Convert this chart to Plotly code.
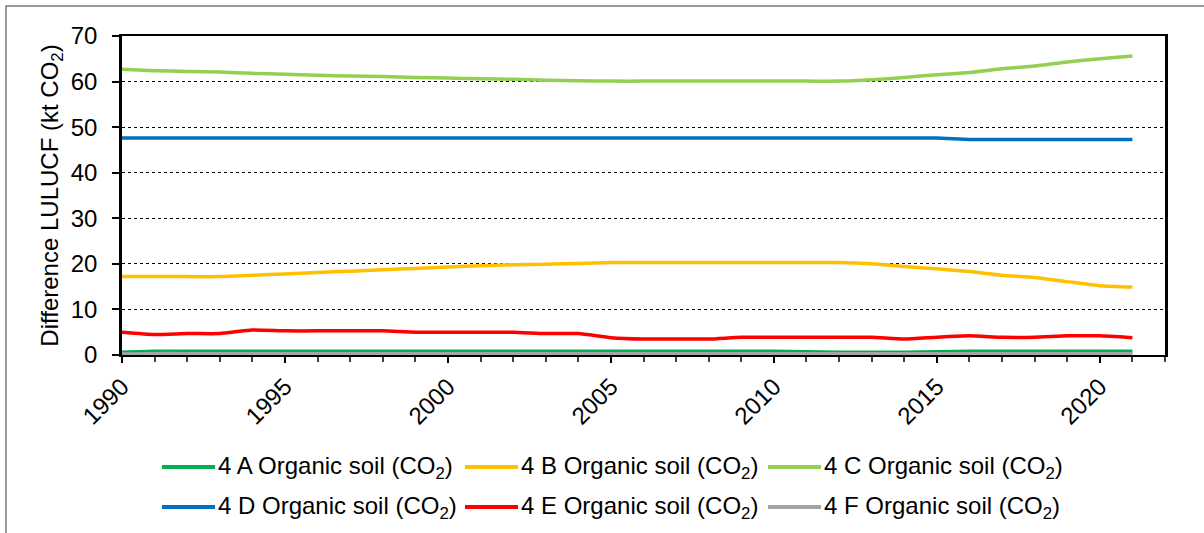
import plotly.graph_objects as go

# Annual values 1990-2021, kt CO2
years = list(range(1990, 2022))

series_names = [
    "4 A Organic soil (CO<sub>2</sub>)",
    "4 B Organic soil (CO<sub>2</sub>)",
    "4 C Organic soil (CO<sub>2</sub>)",
    "4 D Organic soil (CO<sub>2</sub>)",
    "4 E Organic soil (CO<sub>2</sub>)",
    "4 F Organic soil (CO<sub>2</sub>)",
]
series_colors = ["#00B050", "#FFC000", "#92D050", "#0070C0", "#FF0000", "#A5A5A5"]

cropland_a = [0.6, 0.8, 0.8, 0.8, 0.8, 0.8, 0.8, 0.8, 0.8, 0.8, 0.8, 0.8, 0.8, 0.8, 0.8, 0.8,
              0.8, 0.8, 0.8, 0.8, 0.8, 0.7, 0.6, 0.6, 0.6, 0.7, 0.8, 0.8, 0.8, 0.8, 0.8, 0.8]
grass_b = [17.2, 17.2, 17.2, 17.2, 17.5, 17.8, 18.1, 18.4, 18.7, 19.0, 19.3, 19.6, 19.8, 19.9, 20.1, 20.3,
           20.3, 20.3, 20.3, 20.3, 20.3, 20.3, 20.3, 20.0, 19.4, 18.9, 18.3, 17.5, 17.0, 16.1, 15.2, 14.9]
wet_c = [62.7, 62.4, 62.2, 62.1, 61.8, 61.6, 61.4, 61.2, 61.1, 60.9, 60.8, 60.6, 60.5, 60.3, 60.2, 60.1,
         60.1, 60.1, 60.1, 60.1, 60.1, 60.1, 60.1, 60.4, 60.9, 61.5, 62.0, 62.8, 63.4, 64.3, 65.0, 65.6]
settle_d = [47.6, 47.6, 47.6, 47.6, 47.6, 47.6, 47.6, 47.6, 47.6, 47.6, 47.6, 47.6, 47.6, 47.6, 47.6, 47.6,
            47.6, 47.6, 47.6, 47.6, 47.6, 47.6, 47.6, 47.6, 47.6, 47.6, 47.3, 47.3, 47.3, 47.3, 47.3, 47.3]
other_e = [5.0, 4.5, 4.7, 4.7, 5.5, 5.3, 5.3, 5.3, 5.3, 5.0, 5.0, 5.0, 5.0, 4.7, 4.7, 3.8,
           3.5, 3.5, 3.5, 3.9, 3.9, 3.9, 3.9, 3.9, 3.5, 3.9, 4.2, 3.9, 3.9, 4.2, 4.2, 3.8]
forest_f = [0.2, 0.3, 0.3, 0.3, 0.3, 0.3, 0.3, 0.3, 0.3, 0.3, 0.3, 0.3, 0.3, 0.3, 0.3, 0.3,
            0.3, 0.3, 0.3, 0.3, 0.3, 0.3, 0.3, 0.3, 0.3, 0.3, 0.3, 0.3, 0.3, 0.3, 0.3, 0.3]

series_values = [cropland_a, grass_b, wet_c, settle_d, other_e, forest_f]

year_ticks = [1990, 1995, 2000, 2005, 2010, 2015, 2020]
y_ticks = [0, 10, 20, 30, 40, 50, 60, 70]

FONT = "Liberation Sans, Arial, sans-serif"
FS = 24
W, H = 1204, 533
ML, MR, MT, MB = 122, 39, 36, 178
PW, PH = W - ML - MR, H - MT - MB


def px_x(px):
    return (px - ML) / PW


def px_y(py):
    return (H - MB - py) / PH


fig = go.Figure()
for name, vals, col in zip(series_names, series_values, series_colors):
    fig.add_trace(go.Scatter(
        x=years, y=vals, name=name, mode="lines",
        line=dict(color=col, width=3.5, shape="spline", smoothing=0.5),
        showlegend=False,
    ))

# Custom legend: two rows of three entries below the plot
shapes = []
annotations = []
col_x = [162, 465, 768]
row_y = [467, 507]
for i, (name, col) in enumerate(zip(series_names, series_colors)):
    r, c = divmod(i, 3)
    x0 = col_x[c]
    yy = row_y[r]
    shapes.append(dict(type="line", xref="paper", yref="paper",
                       x0=px_x(x0), x1=px_x(x0 + 53), y0=px_y(yy), y1=px_y(yy),
                       line=dict(color=col, width=4)))
    annotations.append(dict(xref="paper", yref="paper", x=px_x(x0 + 54), y=px_y(yy),
                            xanchor="left", yanchor="middle", text=name, showarrow=False,
                            font=dict(family=FONT, size=FS, color="#000000")))

# Outer chart frame
shapes.append(dict(type="rect", xref="paper", yref="paper", layer="below",
                   x0=px_x(6), x1=px_x(1215), y0=px_y(545), y1=px_y(6),
                   line=dict(color="#7A7A7A", width=1.5), fillcolor="rgba(0,0,0,0)"))

fig.update_layout(
    width=W, height=H,
    margin=dict(l=ML, r=MR, t=MT, b=MB),
    paper_bgcolor="white", plot_bgcolor="white",
    font=dict(family=FONT, size=FS, color="#000000"),
    shapes=shapes, annotations=annotations,
    showlegend=False,
)

fig.update_xaxes(
    range=[1990, 2022], tickmode="array", tickvals=year_ticks,
    ticktext=[str(y) for y in year_ticks], tickangle=-45,
    ticks="outside", ticklen=6, tickwidth=1.5, tickcolor="#000000",
    minor=dict(dtick=1, tick0=1990, ticks="outside", ticklen=5, tickwidth=1.5,
               tickcolor="#404040", showgrid=False),
    showgrid=False, zeroline=False,
    showline=True, linecolor="#000000", linewidth=2, mirror=True,
    tickfont=dict(family=FONT, size=FS),
)
fig.update_yaxes(
    range=[0, 70], tickmode="array", tickvals=y_ticks,
    ticks="outside", ticklen=7, tickwidth=1.5, tickcolor="#000000",
    ticklabelstandoff=10,
    showgrid=True, gridcolor="#000000", gridwidth=1, griddash="dot",
    zeroline=False,
    showline=True, linecolor="#000000", linewidth=2.5, mirror=True,
    tickfont=dict(family=FONT, size=FS),
    title=dict(text="Difference LULUCF (kt CO<sub>2</sub>)", standoff=6,
               font=dict(family=FONT, size=FS)),
)

fig.write_html("out.html")
